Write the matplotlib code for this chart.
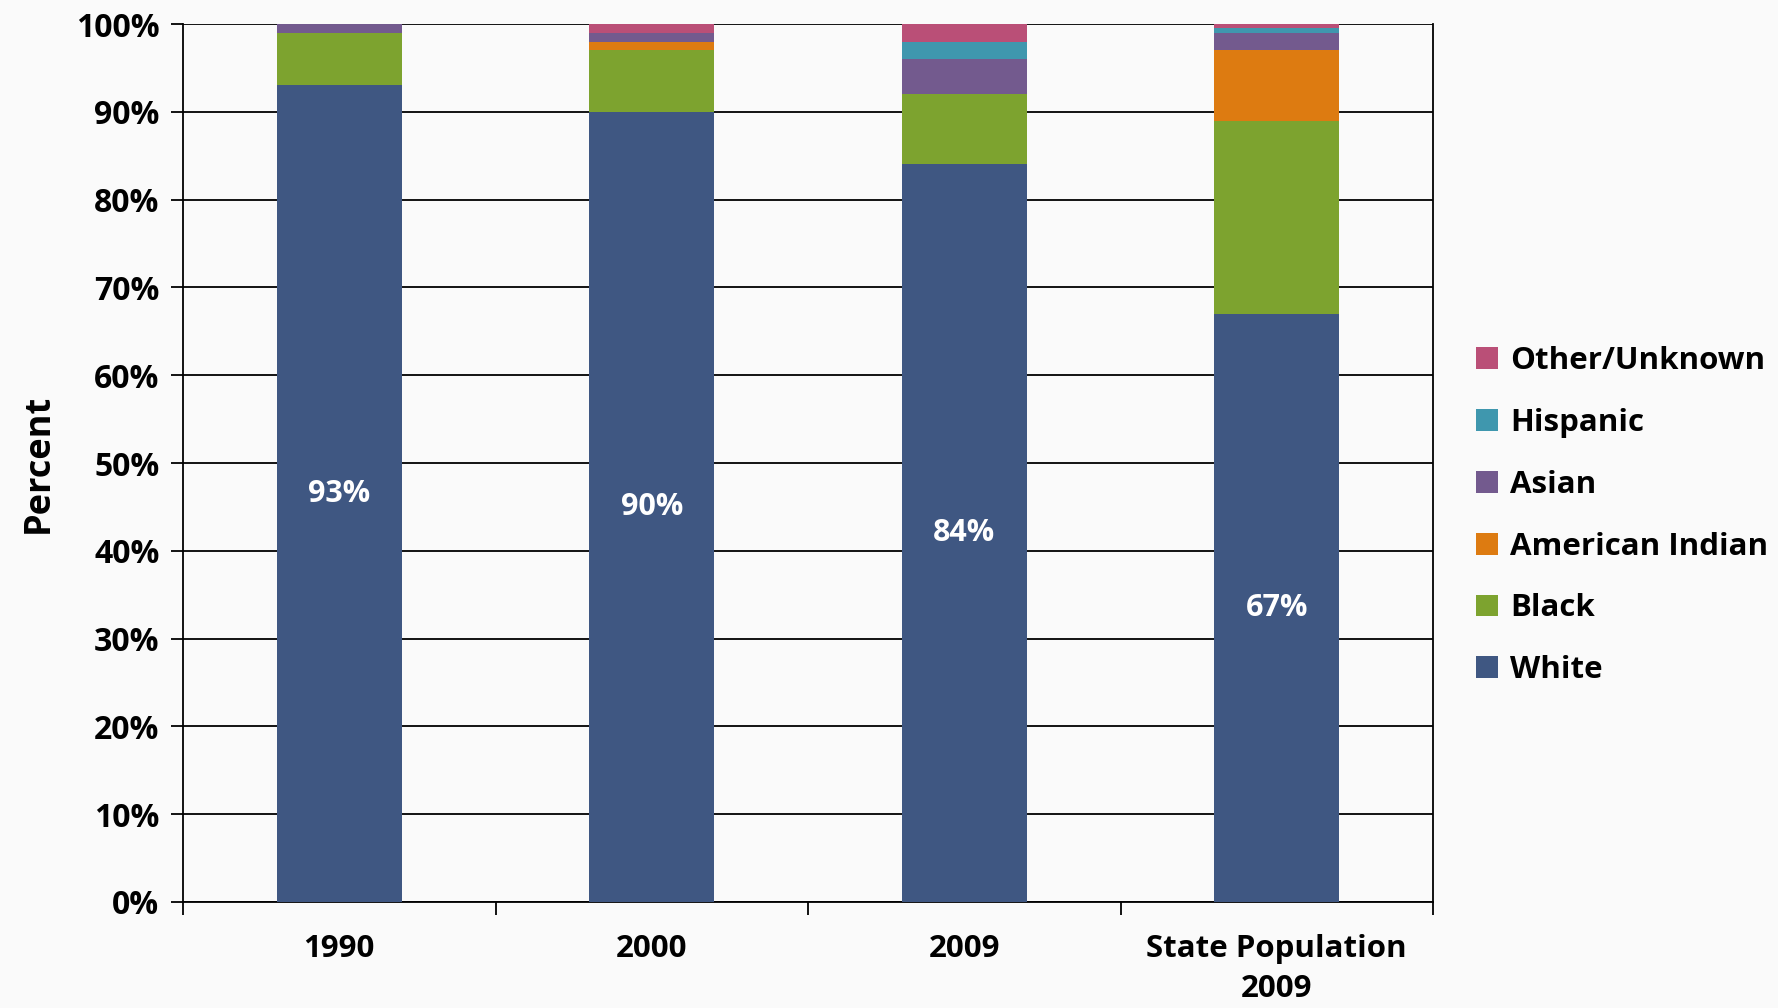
import matplotlib.pyplot as plt
import numpy as np

plt.rcParams['font.family'] = ['Open Sans', 'DejaVu Sans']
plt.rcParams['font.weight'] = 'bold'

categories = ['1990', '2000', '2009', 'State Population\n2009']
groups = ['White', 'Black', 'American Indian', 'Asian', 'Hispanic', 'Other/Unknown']
white = [93, 90, 84, 67]
black = [6, 7, 8, 22]
american_indian = [0, 1, 0, 8]
asian = [1, 1, 4, 2]
hispanic = [0, 0, 2, 0.5]
other = [0, 1, 2, 0.5]
series = [white, black, american_indian, asian, hispanic, other]
colors = ['#3F5782', '#7DA32F', '#DD7B11', '#735A8E', '#3F97AE', '#BA4F77']

fig = plt.figure(figsize=(17.78, 10.08), dpi=100, facecolor='#FAFAFA')
ax = fig.add_axes([183 / 1778, 1 - 902 / 1008, (1433 - 183) / 1778, (902 - 24) / 1008])
ax.set_facecolor('#FAFAFA')

x = np.arange(len(categories))
bottom = np.zeros(len(categories))
handles = []
for vals, col, name in zip(series, colors, groups):
    b = ax.bar(x, vals, width=0.4, bottom=bottom, color=col, edgecolor='none',
               label=name, zorder=3)
    handles.append(b)
    bottom += np.array(vals)

# white-share labels in the middle of the white segment
for xi, v in zip(x, white):
    ax.text(xi, v / 2, f'{v}%', ha='center', va='center', color='white',
            fontsize=22, fontweight='bold', zorder=4)

ax.set_xlim(-0.5, len(categories) - 0.5)
ax.set_ylim(0, 100)
ax.set_yticks(np.arange(0, 101, 10))
ax.set_yticklabels([f'{t}%' for t in range(0, 101, 10)])
ax.yaxis.grid(True, color='black', linewidth=1.3, zorder=0)

ax.set_xticks(x)
ax.set_xticklabels(categories, linespacing=1.45)
ax.set_xticks(np.arange(-0.5, len(categories), 1), minor=True)
ax.tick_params(axis='x', which='major', length=0, pad=23, labelsize=22.5)
ax.tick_params(axis='x', which='minor', length=9, width=1.3, direction='out')
ax.tick_params(axis='y', length=9, width=1.3, labelsize=23, pad=8)

for s in ['left', 'bottom', 'right']:
    ax.spines[s].set_color('black')
    ax.spines[s].set_linewidth(1.3)
ax.spines['top'].set_visible(False)

ax.set_ylabel('Percent', fontsize=26, fontweight='bold', labelpad=14)

ax.legend(handles[::-1], groups[::-1], loc='center left', bbox_to_anchor=(1.012, 0.44),
          frameon=False, fontsize=22.5, handlelength=0.7, handleheight=0.7,
          labelspacing=1.02, handletextpad=0.4)

fig.savefig('out.png', dpi=100, facecolor=fig.get_facecolor())
